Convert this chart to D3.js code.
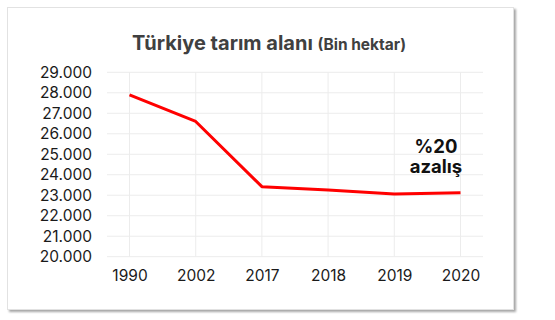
<!DOCTYPE html>
<html>
<head>
<meta charset="utf-8">
<script src="https://cdn.jsdelivr.net/npm/d3@7"></script>
<style>
	body { margin: 0; background: #fff; }
	text { font-family: Inter, "Open Sans", sans-serif; }
</style>
</head>
<body>
<div id="chart"></div>
<script>
// data (bin hektar)
var years = ["1990", "2002", "2017", "2018", "2019", "2020"];
var area = [27900, 26600, 23420, 23250, 23060, 23120];
var yTicks = [20000, 21000, 22000, 23000, 24000, 25000, 26000, 27000, 28000, 29000];

var W = 555, H = 320;
var svg = d3.select("#chart").append("svg")
	.attr("width", W)
	.attr("height", H);

// card with a soft shadow
var defs = svg.append("defs");
var f = defs.append("filter").attr("id", "shadow")
	.attr("x", "-5%").attr("y", "-5%").attr("width", "110%").attr("height", "115%");
f.append("feDropShadow")
	.attr("dx", 2).attr("dy", 2).attr("stdDeviation", 1.2)
	.attr("flood-color", "#000").attr("flood-opacity", 0.35);

svg.append("rect")
	.attr("x", 7.5).attr("y", 7.5)
	.attr("width", 506).attr("height", 302)
	.attr("fill", "#fff")
	.attr("stroke", "#e2e2e2")
	.attr("filter", "url(#shadow)");

// title
var title = svg.append("text")
	.attr("x", 269).attr("y", 50)
	.attr("text-anchor", "middle")
	.attr("fill", "#404040")
	.style("font-weight", 700);
title.append("tspan").style("font-size", "20px").text("Türkiye tarım alanı ");
title.append("tspan").style("font-size", "15.5px").text("(Bin hektar)");

// scales
var x = d3.scalePoint()
	.domain(years)
	.range([107, 483])
	.padding(0.34);

var y = d3.scaleLinear()
	.domain([20000, 29000])
	.range([256.7, 72.3]);

// grid
var grid = svg.append("g");
grid.selectAll(".hg")
	.data(yTicks)
	.enter().append("line")
	.attr("x1", 107).attr("x2", 483)
	.attr("y1", function(d) { return y(d); })
	.attr("y2", function(d) { return y(d); })
	.attr("stroke", "#ececec");
grid.selectAll(".vg")
	.data(years)
	.enter().append("line")
	.attr("x1", function(d) { return x(d); })
	.attr("x2", function(d) { return x(d); })
	.attr("y1", y(29000)).attr("y2", y(20000))
	.attr("stroke", "#ececec");

// y axis labels
var yAxis = svg.append("g")
	.attr("transform", "translate(92,0)")
	.call(d3.axisLeft(y)
		.tickValues(yTicks)
		.tickSize(0)
		.tickPadding(0)
		.tickFormat(function(d) { return d3.format(",")(d).replace(/,/g, "."); }));
yAxis.select(".domain").remove();
yAxis.selectAll("text")
	.style("font-size", "15.5px")
	.attr("fill", "#1a1a1a");

// x axis labels
var xAxis = svg.append("g")
	.attr("transform", "translate(0,270)")
	.call(d3.axisBottom(x).tickSize(0).tickPadding(0));
xAxis.select(".domain").remove();
xAxis.selectAll("text")
	.style("font-size", "15.5px")
	.attr("fill", "#1a1a1a");

// line
var line = d3.line()
	.x(function(d, i) { return x(years[i]); })
	.y(function(d) { return y(d); });

svg.append("path")
	.datum(area)
	.attr("d", line)
	.attr("fill", "none")
	.attr("stroke", "#ff0000")
	.attr("stroke-width", 3)
	.attr("stroke-linejoin", "round");

// annotation
var note = svg.append("text")
	.attr("x", 436).attr("y", 153)
	.attr("text-anchor", "middle")
	.attr("fill", "#111")
	.style("font-size", "18.5px")
	.style("font-weight", 700);
note.append("tspan").attr("x", 436).text("%20");
note.append("tspan").attr("x", 436).attr("dy", 20).text("azalış");
</script>
</body>
</html>
